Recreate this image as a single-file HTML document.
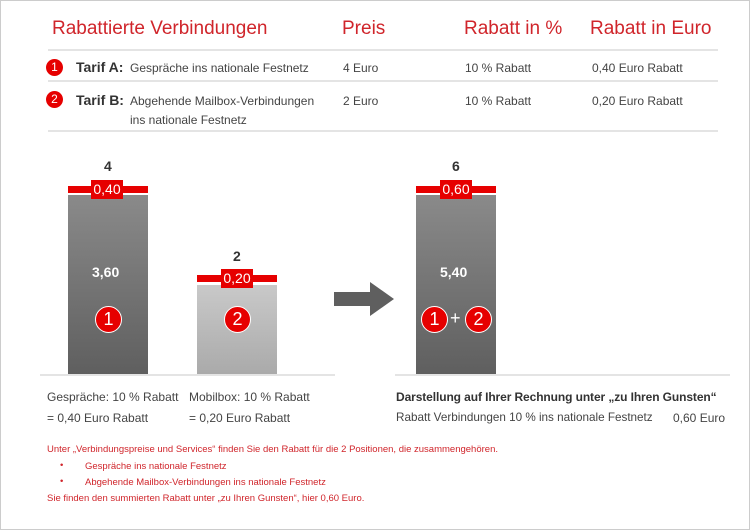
<!DOCTYPE html>
<html><head><meta charset="utf-8"><style>
*{margin:0;padding:0;box-sizing:border-box}
body{width:750px;height:530px;background:#fff;position:relative;font-family:"Liberation Sans",sans-serif;color:#333;overflow:hidden}
.a{position:absolute;white-space:nowrap}
.frame{position:absolute;left:0;top:0;width:750px;height:530px;border:1px solid #ccc}
.h{color:#d0252b;font-size:19px;top:18px}
.hl{position:absolute;height:2px;background:#e4e4e4;left:48px;width:670px}
.t{font-size:12px;color:#444}
.num{position:absolute;width:17px;height:17px;border-radius:50%;background:#e60000;color:#fff;font-size:12px;text-align:center;line-height:17px}
.bar{position:absolute;width:80px}
.strip{position:absolute;height:7px;background:#e60000}
.lab{position:absolute;background:#e60000;color:#fff;font-size:14px;width:32px;height:19px;line-height:19px;text-align:center}
.c{position:absolute;width:27px;height:27px;border-radius:50%;background:#e60000;border:1.5px solid #fff;color:#fff;font-size:18px;text-align:center;line-height:24px}
.w{color:#fff;font-weight:bold;font-size:14px}
.r{color:#d0252b;font-size:9.5px}
</style></head><body>
<div class="frame"></div>
<div class="a h" style="left:52px">Rabattierte Verbindungen</div>
<div class="a h" style="left:342px">Preis</div>
<div class="a h" style="left:464px">Rabatt in %</div>
<div class="a h" style="left:590px">Rabatt in Euro</div>
<div class="hl" style="top:49px"></div>
<div class="hl" style="top:80px"></div>
<div class="hl" style="top:130px"></div>
<div class="num" style="left:46px;top:59px">1</div>
<div class="num" style="left:46px;top:91px">2</div>
<div class="a" style="left:76px;top:59px;font-weight:bold;font-size:14px">Tarif A:</div>
<div class="a" style="left:76px;top:92px;font-weight:bold;font-size:14px">Tarif B:</div>
<div class="a t" style="left:130px;top:61px">Gespräche ins nationale Festnetz</div>
<div class="a t" style="left:130px;top:94px">Abgehende Mailbox-Verbindungen</div>
<div class="a t" style="left:130px;top:113px">ins nationale Festnetz</div>
<div class="a t" style="left:343px;top:61px">4 Euro</div>
<div class="a t" style="left:343px;top:94px">2 Euro</div>
<div class="a t" style="left:465px;top:61px">10 % Rabatt</div>
<div class="a t" style="left:465px;top:94px">10 % Rabatt</div>
<div class="a t" style="left:592px;top:61px">0,40 Euro Rabatt</div>
<div class="a t" style="left:592px;top:94px">0,20 Euro Rabatt</div>

<div class="a" style="left:104px;top:158px;font-weight:bold;font-size:14px">4</div>
<div class="bar" style="left:68px;top:195px;height:179px;background:linear-gradient(#8a8a8a,#5f5f5f)"></div>
<div class="strip" style="left:68px;top:186px;width:80px"></div>
<div class="lab" style="left:91px;top:180px">0,40</div>
<div class="a w" style="left:92px;top:264px">3,60</div>
<div class="c" style="left:95px;top:306px">1</div>

<div class="a" style="left:233px;top:248px;font-weight:bold;font-size:14px">2</div>
<div class="bar" style="left:197px;top:285px;height:89px;background:linear-gradient(#c9c9c9,#aaaaaa)"></div>
<div class="strip" style="left:197px;top:275px;width:80px"></div>
<div class="lab" style="left:221px;top:269px">0,20</div>
<div class="c" style="left:224px;top:306px">2</div>

<svg class="a" style="left:334px;top:282px" width="62" height="34"><path d="M0 10H36V0L60 17L36 34V24H0Z" fill="#5f5f5f"/></svg>

<div class="a" style="left:452px;top:158px;font-weight:bold;font-size:14px">6</div>
<div class="bar" style="left:416px;top:195px;height:179px;background:linear-gradient(#8a8a8a,#5f5f5f)"></div>
<div class="strip" style="left:416px;top:186px;width:80px"></div>
<div class="lab" style="left:440px;top:180px">0,60</div>
<div class="a w" style="left:440px;top:264px">5,40</div>
<div class="c" style="left:421px;top:306px">1</div>
<div class="a" style="left:450px;top:308px;color:#fff;font-size:18px">+</div>
<div class="c" style="left:465px;top:306px">2</div>

<div class="a" style="left:40px;top:374px;width:295px;height:2px;background:#e4e4e4"></div>
<div class="a" style="left:395px;top:374px;width:335px;height:2px;background:#e4e4e4"></div>

<div class="a t" style="left:47px;top:390px">Gespräche: 10 % Rabatt</div>
<div class="a t" style="left:47px;top:411px">= 0,40 Euro Rabatt</div>
<div class="a t" style="left:189px;top:390px">Mobilbox: 10 % Rabatt</div>
<div class="a t" style="left:189px;top:411px">= 0,20 Euro Rabatt</div>
<div class="a" style="left:396px;top:390px;font-weight:bold;font-size:12px;color:#333;letter-spacing:-0.1px">Darstellung auf Ihrer Rechnung unter „zu Ihren Gunsten“</div>
<div class="a t" style="left:396px;top:411px;font-size:11.7px">Rabatt Verbindungen 10 % ins nationale Festnetz</div>
<div class="a t" style="left:673px;top:411px">0,60 Euro</div>

<div class="a r" style="left:47px;top:444px">Unter „Verbindungspreise und Services“ finden Sie den Rabatt für die 2 Positionen, die zusammengehören.</div>
<div class="a r" style="left:60px;top:460px">•</div>
<div class="a r" style="left:85px;top:461px">Gespräche ins nationale Festnetz</div>
<div class="a r" style="left:60px;top:476px">•</div>
<div class="a r" style="left:85px;top:477px">Abgehende Mailbox-Verbindungen ins nationale Festnetz</div>
<div class="a r" style="left:47px;top:493px">Sie finden den summierten Rabatt unter „zu Ihren Gunsten“, hier 0,60 Euro.</div>
</body></html>
